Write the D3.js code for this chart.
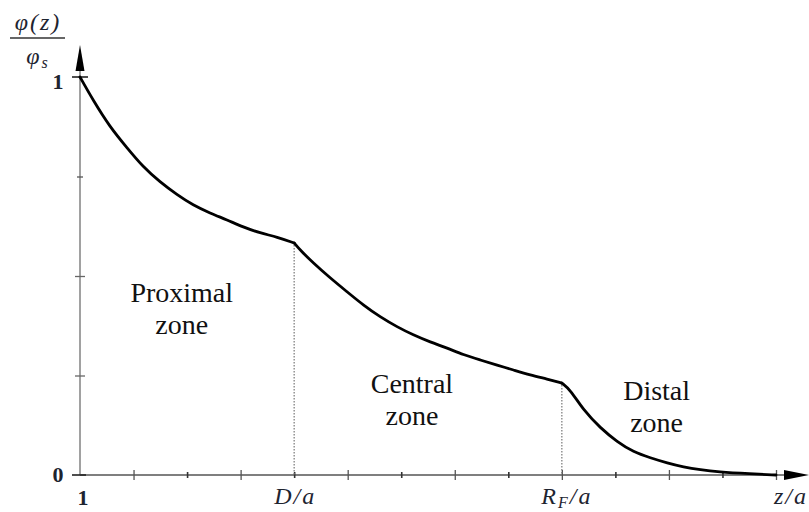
<!DOCTYPE html>
<html><head><meta charset="utf-8">
<script src="https://cdn.jsdelivr.net/npm/d3@7"></script>
<style>
html,body{margin:0;padding:0;background:#fff;}
svg{display:block;}
.math{font-family:"Liberation Serif","DejaVu Serif",serif;font-style:italic;fill:#1e2430;}
.zone{font-family:"Liberation Serif","DejaVu Serif","Times New Roman",serif;fill:#111;font-size:28px;}
</style>
</head><body>
<svg id="chart" width="809" height="512"></svg>
<script>
// ---- data ----
const proximal = [[1,1.0],[1.243,0.942],[1.561,0.874],[1.879,0.822],[2.178,0.774],[2.495,0.736],[2.813,0.704],[3.112,0.678],[3.43,0.658],[3.748,0.641],[4.047,0.623],[4.364,0.608],[4.682,0.598],[5,0.583]];
const central = [[5,0.583],[5.112,0.565],[5.355,0.533],[5.673,0.495],[5.991,0.46],[6.29,0.427],[6.607,0.397],[6.925,0.372],[7.224,0.352],[7.542,0.334],[7.86,0.319],[8.159,0.302],[8.477,0.289],[8.794,0.276],[9.093,0.264],[9.411,0.251],[9.729,0.241],[10,0.231]];
const distal = [[10,0.231],[10.159,0.214],[10.402,0.163],[10.72,0.118],[11.037,0.083],[11.336,0.058],[11.654,0.043],[11.972,0.03],[12.271,0.02],[12.589,0.013],[12.907,0.008],[13.523,0.003],[14,0.0]];
const xMajorTicks = [2,4,6,8,10,12,14];
const xMinorTicks = [3,5,7,9,11,13];
const yMajorTicks = [0.25,0.5];
const yMinorTicks = [0.75];
const boundaries = [5,10];           // D/a, R_F/a
const zoneLabels = [
  {lines:["Proximal","zone"], x:2.9, y:0.435},
  {lines:["Central","zone"],  x:7.2, y:0.205},
  {lines:["Distal","zone"],   x:11.77, y:0.188}
];

// ---- scales ----
const svg = d3.select("#chart");
const x = d3.scaleLinear().domain([1,14]).range([80,776]);
const y = d3.scaleLinear().domain([0,1]).range([475,77]);

// ---- axes ----
svg.append("line")
  .attr("x1", x(1)).attr("x2", 790).attr("y1", y(0)).attr("y2", y(0))
  .attr("stroke","#555").attr("stroke-width",1.3);
svg.append("line")
  .attr("x1", x(1)).attr("x2", x(1)).attr("y1", y(0)).attr("y2", 66)
  .attr("stroke","#8a8a8a").attr("stroke-width",1.6);

function cleanAxis(g, color, w){
  g.select(".domain").remove();
  g.selectAll(".tick text").remove();
  g.selectAll(".tick line").attr("stroke",color).attr("stroke-width",w);
}
const gxMaj = svg.append("g").attr("transform",`translate(0,${y(0)})`)
  .call(d3.axisBottom(x).tickValues(xMajorTicks).tickSize(5));
cleanAxis(gxMaj,"#555",1.3);
gxMaj.selectAll(".tick line").attr("y1",-5).attr("y2",5);
const gxMin = svg.append("g").attr("transform",`translate(0,${y(0)})`)
  .call(d3.axisBottom(x).tickValues(xMinorTicks).tickSize(3));
cleanAxis(gxMin,"#333",1.6);
gxMin.selectAll(".tick line").attr("y1",-3).attr("y2",3);

const gyMaj = svg.append("g").attr("transform",`translate(${x(1)},0)`)
  .call(d3.axisLeft(y).tickValues(yMajorTicks).tickSize(5));
cleanAxis(gyMaj,"#666",1.3);
gyMaj.selectAll(".tick line").attr("x1",-5).attr("x2",5);
const gyMin = svg.append("g").attr("transform",`translate(${x(1)},0)`)
  .call(d3.axisLeft(y).tickValues(yMinorTicks).tickSize(3));
cleanAxis(gyMin,"#555",1.3);
gyMin.selectAll(".tick line").attr("x1",-3).attr("x2",3);

// end ticks at y=1 and y=0
svg.append("line").attr("x1",x(1)-8).attr("x2",x(1)+8).attr("y1",y(1)).attr("y2",y(1))
  .attr("stroke","#222").attr("stroke-width",1.6);
svg.append("line").attr("x1",x(1)-8).attr("x2",x(1)+6).attr("y1",y(0)).attr("y2",y(0))
  .attr("stroke","#222").attr("stroke-width",1.6);

// arrows
svg.append("path").attr("d",`M${x(1)},45 L${x(1)-4.5},71 L${x(1)+4.5},71 Z`).attr("fill","#000");
svg.append("path").attr("d",`M809,${y(0)} L784,${y(0)-5} L784,${y(0)+5} Z`).attr("fill","#000");

// boundaries (dotted)
const curveAll = proximal.concat(central.slice(1), distal.slice(1));
boundaries.forEach(b=>{
  const v = curveAll.find(d=>d[0]===b)[1];
  svg.append("line").attr("x1",x(b)).attr("x2",x(b)).attr("y1",y(v)+2).attr("y2",y(0))
    .attr("stroke","#777").attr("stroke-width",1.2).attr("stroke-dasharray","1.5,1.5");
});

// curve
const line = d3.line().x(d=>x(d[0])).y(d=>y(d[1])).curve(d3.curveBasis);
[proximal, central, distal].forEach(seg=>{
  svg.append("path").datum(seg).attr("d",line)
    .attr("fill","none").attr("stroke","#000").attr("stroke-width",2.8)
    .attr("stroke-linejoin","round").attr("stroke-linecap","round");
});

// tick labels
function numLabel(xp, yp, t){
  svg.append("text").attr("class","math").attr("x",xp).attr("y",yp).attr("text-anchor","middle")
    .style("font-size","22px").style("font-style","normal").style("font-weight","bold").text(t);
}
numLabel(58, y(1)+12, "1");
numLabel(58, y(0)+7, "0");
numLabel(x(1)+3, 505, "1");

function mathLabel(xp, yp, parts, anchor){
  const t = svg.append("text").attr("class","math").attr("x",xp).attr("y",yp)
    .attr("text-anchor",anchor||"middle").style("font-size","24px").style("letter-spacing","2px");
  parts.forEach(p=>{
    const ts = t.append("tspan").text(p.t);
    if(p.sub){ ts.style("font-size","16px").attr("dy",4); }
    if(p.back){ ts.attr("dy",-4); }
  });
  return t;
}
mathLabel(x(5)+1, 504, [{t:"D/a"}]);
mathLabel(x(10)+5, 504, [{t:"R"},{t:"F",sub:true},{t:"/a",back:true}]);
mathLabel(808, 504, [{t:"z/a"}], "end");

// y label fraction
mathLabel(38, 30, [{t:"φ(z)"}]);
svg.append("line").attr("x1",10).attr("x2",65).attr("y1",38).attr("y2",38)
  .attr("stroke","#666").attr("stroke-width",2.2);
mathLabel(38, 64, [{t:"φ"},{t:"s",sub:true}]);

// zone labels
zoneLabels.forEach(z=>{
  z.lines.forEach((l,i)=>{
    svg.append("text").attr("class","zone").attr("x",x(z.x)).attr("y",y(z.y)+i*32)
      .attr("text-anchor","middle").text(l);
  });
});
</script>
</body></html>
